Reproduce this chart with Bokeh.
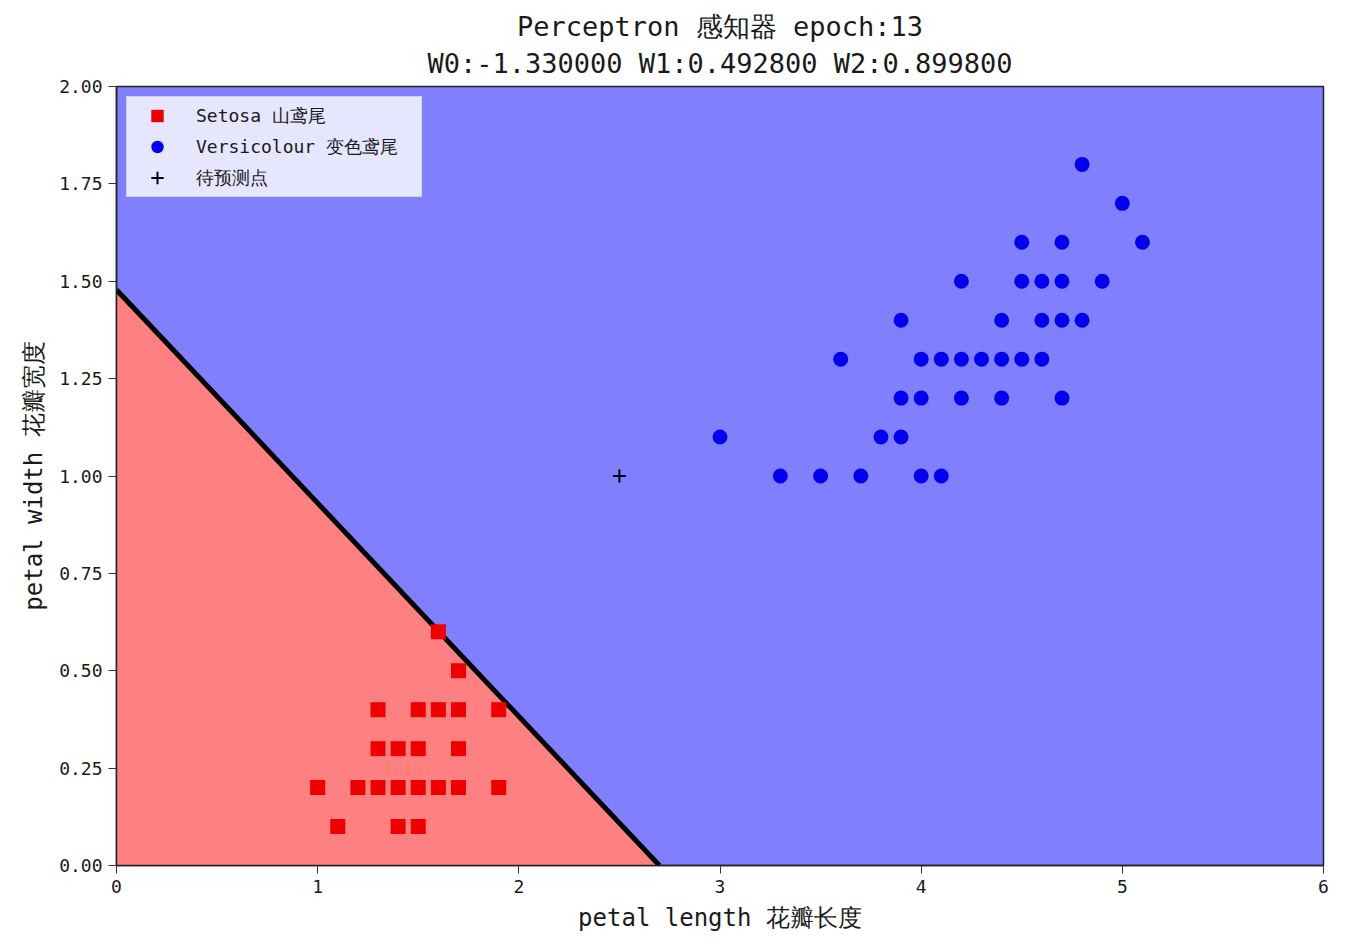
from bokeh.plotting import figure
from bokeh.models import Title, FixedTicker, NumeralTickFormatter, Legend, LegendItem
from bokeh.embed import file_html
from bokeh.resources import INLINE

# ---- data ----
W0, W1, W2 = -1.33, 0.4928, 0.8998
epoch = 13

setosa_x = [1.6, 1.7, 1.3, 1.5, 1.6, 1.7, 1.9, 1.3, 1.4, 1.5, 1.7,
            1.0, 1.2, 1.3, 1.4, 1.5, 1.6, 1.7, 1.9, 1.1, 1.4, 1.5]
setosa_y = [0.6, 0.5, 0.4, 0.4, 0.4, 0.4, 0.4, 0.3, 0.3, 0.3, 0.3,
            0.2, 0.2, 0.2, 0.2, 0.2, 0.2, 0.2, 0.2, 0.1, 0.1, 0.1]

versi_x = [4.8, 5.0, 4.5, 4.7, 5.1, 4.2, 4.5, 4.6, 4.7, 4.9,
           3.9, 4.4, 4.6, 4.7, 4.8,
           3.6, 4.0, 4.1, 4.2, 4.3, 4.4, 4.5, 4.6,
           3.9, 4.0, 4.2, 4.4, 4.7,
           3.0, 3.8, 3.9,
           3.3, 3.5, 3.7, 4.0, 4.1]
versi_y = [1.8, 1.7, 1.6, 1.6, 1.6, 1.5, 1.5, 1.5, 1.5, 1.5,
           1.4, 1.4, 1.4, 1.4, 1.4,
           1.3, 1.3, 1.3, 1.3, 1.3, 1.3, 1.3, 1.3,
           1.2, 1.2, 1.2, 1.2, 1.2,
           1.1, 1.1, 1.1,
           1.0, 1.0, 1.0, 1.0, 1.0]

test_x = [2.5]
test_y = [1.0]

x_ticks = [0, 1, 2, 3, 4, 5, 6]
y_ticks = [0.0, 0.25, 0.5, 0.75, 1.0, 1.25, 1.5, 1.75, 2.0]
x_lim = (0, 6)
y_lim = (0, 2)

FONT = "DejaVu Sans Mono"
TXT = "#1a1a1a"

p = figure(width=1338, height=936, x_range=x_lim, y_range=y_lim,
           output_backend="svg", toolbar_location=None, title=None,
           min_border_left=116, min_border_right=15, min_border_top=86,
           min_border_bottom=71)

p.background_fill_color = "#8080ff"
p.border_fill_color = "white"
p.outline_line_color = "#222222"
p.outline_line_width = 1.5
p.xgrid.visible = False
p.ygrid.visible = False

# decision regions from weights
x_int = -W0 / W1
y_int = -W0 / W2
p.patch([x_lim[0], x_lim[0], x_int], [y_lim[0], y_int, y_lim[0]],
        fill_color="#ff8080", line_color=None)
p.line([x_lim[0], x_int], [y_int, y_lim[0]], line_color="black", line_width=5)

r1 = p.scatter(setosa_x, setosa_y, marker="square", size=15, fill_color="#ee0000",
               line_color=None)
r2 = p.scatter(versi_x, versi_y, marker="circle", size=15, fill_color="#0000ee",
               line_color=None)
r3 = p.scatter(test_x, test_y, marker="cross", size=13, line_color="black",
               line_width=2)

legend = Legend(items=[LegendItem(label="Setosa 山鸢尾", renderers=[r1]),
                       LegendItem(label="Versicolour 变色鸢尾", renderers=[r2]),
                       LegendItem(label="待预测点", renderers=[r3])],
                location="top_left")
legend.label_text_font = FONT
legend.label_text_font_size = "18px"
legend.label_text_color = TXT
legend.glyph_width = 54
legend.glyph_height = 31
legend.label_height = 31
legend.label_width = 222
legend.spacing = 0
legend.padding = 3
legend.margin = 10
legend.label_standoff = 12
legend.background_fill_color = "white"
legend.background_fill_alpha = 0.8
legend.border_line_color = "#cccccc"
legend.border_line_alpha = 0.8
p.add_layout(legend, "center")

# axes
p.xaxis.ticker = FixedTicker(ticks=x_ticks)
p.yaxis.ticker = FixedTicker(ticks=y_ticks)
p.yaxis.formatter = NumeralTickFormatter(format="0.00")
p.xaxis.formatter = NumeralTickFormatter(format="0")
for ax in (p.xaxis[0], p.yaxis[0]):
    ax.major_tick_out = 8
    ax.major_tick_in = 0
    ax.minor_tick_out = 0
    ax.minor_tick_in = 0
    ax.major_tick_line_color = "#333333"
    ax.axis_line_color = "#222222"
    ax.axis_line_width = 1.5
    ax.major_label_text_font = FONT
    ax.major_label_text_font_size = "18px"
    ax.major_label_text_color = TXT
    ax.axis_label_text_font = FONT
    ax.axis_label_text_font_size = "24px"
    ax.axis_label_text_font_style = "normal"
    ax.axis_label_text_color = TXT
    ax.major_label_standoff = 6
p.xaxis.axis_label = "petal length 花瓣长度"
p.yaxis.axis_label = "petal width 花瓣宽度"
p.xaxis.axis_label_standoff = 8
p.yaxis.axis_label_standoff = 8

p.add_layout(Title(text="W0:%f W1:%f W2:%f" % (W0, W1, W2), align="center",
                   text_font=FONT, text_font_size="27px", text_font_style="normal",
                   text_color=TXT, standoff=16, offset=6), "above")
p.add_layout(Title(text="Perceptron 感知器 epoch:%d" % epoch, align="center",
                   text_font=FONT, text_font_size="27px", text_font_style="normal",
                   text_color=TXT, standoff=-8, offset=6), "above")

open("out.html", "w").write(file_html(p, INLINE))
